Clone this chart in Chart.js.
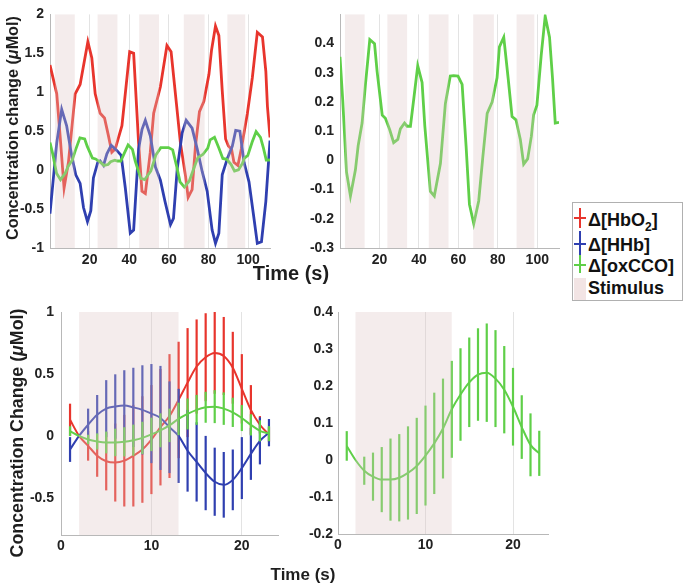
<!DOCTYPE html>
<html><head><meta charset="utf-8">
<script src="https://cdn.jsdelivr.net/npm/chart.js@4.4.1/dist/chart.umd.min.js"></script>
<style>
html,body{margin:0;padding:0;background:#fff;width:685px;height:584px;overflow:hidden;position:relative;font-family:"Liberation Sans",Arial,sans-serif;}
canvas{position:absolute;}
.lab{position:absolute;font-weight:bold;color:#1e1e1e;white-space:nowrap;line-height:1;}
.rot{transform:translate(-50%,-50%) rotate(-90deg);}
.ctr{transform:translate(-50%,-50%);}
#legend{position:absolute;left:572px;top:202px;width:109px;height:97px;border:1px solid #b0b0b0;background:#fff;z-index:5;}
.lt{position:absolute;left:15px;font-weight:bold;font-size:18px;color:#111;line-height:1;white-space:nowrap;}
.hl{position:absolute;left:1px;width:12px;height:1.5px;}
.vl{position:absolute;left:6px;width:1.5px;}
</style></head><body>
<canvas id="c1" width="285" height="275" style="left:0;top:0"></canvas>
<canvas id="c2" width="285" height="275" style="left:290px;top:0"></canvas>
<canvas id="c3" width="290" height="275" style="left:0;top:295px"></canvas>
<canvas id="c4" width="285" height="275" style="left:290px;top:295px"></canvas>

<div class="lab rot" style="left:12px;top:128px;font-size:16.2px">Concentration change (<i>μ</i>Mol)</div>
<div class="lab ctr" style="left:291px;top:273px;font-size:20px">Time (s)</div>
<div class="lab rot" style="left:18px;top:433px;font-size:17.8px">Concentration Change (<i>μ</i>Mol)</div>
<div class="lab ctr" style="left:303px;top:574px;font-size:17px">Time (s)</div>

<div id="legend">
  <div class="vl" style="top:5px;height:20px;background:#e8352d"></div>
  <div class="hl" style="top:14px;background:#e8352d"></div>
  <div class="lt" style="top:8px">Δ[HbO<sub style="font-size:12px">2</sub>]</div>
  <div class="vl" style="top:28px;height:24px;background:#2f3fb0"></div>
  <div class="hl" style="top:40px;background:#2f3fb0"></div>
  <div class="lt" style="top:33px">Δ[HHb]</div>
  <div class="vl" style="top:52px;height:18px;background:#5fcf48"></div>
  <div class="hl" style="top:61px;background:#5fcf48"></div>
  <div class="lt" style="top:54px">Δ[oxCCO]</div>
  <div style="position:absolute;left:1px;top:75px;width:12px;height:22px;background:#f2e4e4"></div>
  <div class="lt" style="top:76px">Stimulus</div>
</div>

<script>
// ---------- data ----------
const stimTop = [[2.5,12.5],[24,34],[45,55],[67.5,78],[89.5,98.5]];
const stimBottom = [[2,13]];

const hbo2Time = [0,3.4,5.1,7.1,9.3,12.7,15.2,19.1,21.1,22.8,25.3,27.5,29.5,31.2,32.9,36.3,40.2,42.2,44.7,46.4,48.1,50.6,52.3,55.7,59,61.1,63.8,65.8,68.4,69.7,71.7,73.4,75.4,77.6,80.2,81.5,83.5,85.2,86.9,88.6,90,91.6,92.8,94.8,96.5,99.6,102.1,104.6,107.2,108.9,109.7,111];
const hbo2Trace = [1.35,0.98,0.44,-0.23,0.10,0.98,1.10,1.65,1.44,0.98,0.73,0.67,0.44,0.23,0.27,0.57,1.52,1.50,0.35,-0.27,-0.30,0.23,0.73,1.07,1.60,1.52,0.85,0.35,-0.08,-0.35,-0.25,0.31,0.75,0.88,1.23,1.54,1.85,1.73,1.02,0.40,0.31,0.27,0.10,0.06,0.27,0.73,1.19,1.77,1.71,1.27,0.82,0.42];

const hhbTime = [0,3.4,5.9,8.4,10.9,13,15.2,16.9,18.9,20.6,21.9,24.1,25.3,27,28.7,30.9,33.8,35.9,38,40.5,42.2,44.7,46.4,48.1,50.6,53.2,55.7,58,60.8,62.3,64.2,66.7,68.7,71.7,74.3,76.8,79.3,81.8,83.5,85.2,86.9,89.5,92,93.7,95.8,97.9,100.4,102.6,104.6,106.7,108.9,111];
const hhbTrace = [-0.56,0.35,0.78,0.57,0.19,-0.06,-0.17,-0.48,-0.66,-0.52,-0.10,0.10,0.12,0.06,0.21,0.32,0.25,0.19,-0.23,-0.81,-0.77,0.27,0.52,0.64,0.44,0.04,-0.13,-0.40,-0.70,-0.62,0.02,0.48,0.64,0.54,0.27,-0.02,-0.27,-0.77,-0.94,-0.81,-0.06,0.15,0.31,0.51,0.50,0.10,-0.15,-0.56,-0.94,-0.92,-0.40,0.38];

const ccoTime = [0,1.4,3.3,5.3,7.8,9.2,11.2,12.9,15.1,17.5,18.8,21.4,23,25.2,27.2,29.3,30.6,32.7,34,35.7,37.4,39.4,41.6,43,45.8,47.8,50.9,53.4,55.9,57.6,59.8,61.9,63.9,65.6,67.8,70.3,72.3,74.6,77.1,79.6,80.8,83,85.2,87.2,89.2,91.4,93.1,95.1,97,98.1,99.8,102,104,106.2,107.7,109.1,111];
const ccoTrace = [0.355,0.205,-0.04,-0.122,-0.033,0.05,0.128,0.26,0.414,0.40,0.305,0.155,0.144,0.105,0.061,0.072,0.108,0.128,0.117,0.117,0.211,0.324,0.267,0.117,-0.106,-0.122,-0.011,0.194,0.289,0.29,0.289,0.26,0.05,-0.15,-0.217,-0.139,0.005,0.161,0.2,0.283,0.389,0.422,0.283,0.15,0.139,0.072,-0.013,0.005,0.083,0.155,0.189,0.361,0.494,0.422,0.283,0.128,0.13];

const avgTime = [1,2,3,4,5,6,7,8,9,10,11,12,13,14,15,16,17,18,19,20,21,22,23];
const hbo2Mean = [0.13,0,-0.08,-0.16,-0.205,-0.215,-0.2,-0.16,-0.11,-0.03,0.07,0.16,0.29,0.43,0.56,0.635,0.67,0.645,0.55,0.38,0.21,0.09,0.01];
const hbo2Err  = [0.13,0,0.12,0.17,0.235,0.315,0.37,0.41,0.43,0.44,0.47,0.5,0.47,0.44,0.38,0.355,0.33,0.315,0.29,0.28,0.2,0.07,0.06];
const hhbMean  = [-0.11,0,0.09,0.17,0.22,0.237,0.245,0.23,0.21,0.18,0.145,0.07,0,-0.12,-0.21,-0.3,-0.37,-0.395,-0.355,-0.26,-0.145,-0.04,0.026];
const hhbErr   = [0.1,0,0.13,0.16,0.23,0.26,0.285,0.32,0.36,0.4,0.42,0.37,0.38,0.33,0.32,0.3,0.275,0.265,0.245,0.25,0.21,0.19,0.11];
const ccoMean  = [0.038,0,-0.029,-0.045,-0.053,-0.053,-0.048,-0.035,-0.016,0.012,0.045,0.085,0.137,0.177,0.21,0.231,0.236,0.22,0.19,0.144,0.089,0.041,0.018];
const ccoErr   = [0.04,0,0.038,0.065,0.088,0.111,0.118,0.126,0.13,0.135,0.137,0.135,0.131,0.125,0.121,0.125,0.133,0.131,0.118,0.105,0.086,0.085,0.061];

const topXTicks = [20,40,60,80,100];
const topLeftYTicks = [-1,-0.5,0,0.5,1,1.5,2];
const topRightYTicks = [-0.3,-0.2,-0.1,0,0.1,0.2,0.3,0.4];
const botXTicks = [0,10,20];
const botLeftYTicks = [-0.5,0,0.5,1];
const botRightYTicks = [-0.2,-0.1,0,0.1,0.2,0.3,0.4];

// ---------- styling ----------
const RED = '#e8352d', BLUE = '#2f3fb0', GREEN = '#5fcf48';
Chart.defaults.font.family = '"Liberation Sans", Arial, sans-serif';

const pts = (xs, ys) => xs.map((x, i) => ({x, y: ys[i]}));
const fmt = v => String(+(+v).toFixed(2));

const errorBars = {
  id: 'errorBars',
  afterDatasetDraw(chart, args) {
    const ds = chart.data.datasets[args.index];
    if (!ds.errors) return;
    const xs = chart.scales.x, ys = chart.scales.y, ctx = chart.ctx, a = chart.chartArea;
    ctx.save();
    ctx.beginPath(); ctx.rect(a.left, a.top, a.right - a.left, a.bottom - a.top); ctx.clip();
    ctx.strokeStyle = ds.borderColor; ctx.lineWidth = ds.errWidth || 2;
    ds.data.forEach((p, i) => {
      const e = ds.errors[i];
      if (!e) return;
      const x = xs.getPixelForValue(p.x);
      ctx.beginPath();
      ctx.moveTo(x, ys.getPixelForValue(p.y - e));
      ctx.lineTo(x, ys.getPixelForValue(p.y + e));
      ctx.stroke();
    });
    ctx.restore();
  }
};
const stim = {
  id: 'stim',
  afterDatasetsDraw(chart, args, opts) {
    const xs = chart.scales.x, a = chart.chartArea, ctx = chart.ctx;
    ctx.save();
    ctx.fillStyle = 'rgba(222,195,195,0.32)';
    (opts.bands || []).forEach(([s, e]) => {
      const x0 = Math.max(a.left, xs.getPixelForValue(s)), x1 = Math.min(a.right, xs.getPixelForValue(e));
      ctx.fillRect(x0, a.top, x1 - x0, a.bottom - a.top);
    });
    ctx.restore();
  }
};

function makeChart(id, datasets, c) {
  return new Chart(document.getElementById(id), {
    type: 'line',
    data: {datasets},
    options: {
      responsive: false, animation: false, devicePixelRatio: 1,
      layout: {padding: c.pad},
      plugins: {legend: {display: false}, tooltip: {enabled: false}, stim: {bands: c.bands}},
      elements: {point: {radius: 0}},
      scales: {
        x: {
          type: 'linear', min: c.xmin, max: c.xmax,
          afterBuildTicks: s => { s.ticks = c.xt.map(v => ({value: v})); },
          afterFit: s => { s.height = c.xh; },
          grid: {color: '#e3e3e3', drawTicks: false, lineWidth: 1},
          border: {color: '#b8b8b8', width: 1},
          ticks: {padding: c.xpad, color: '#222', font: {size: 14, weight: 'bold'}, maxRotation: 0, autoSkip: false, callback: fmt}
        },
        y: {
          type: 'linear', min: c.ymin, max: c.ymax,
          afterBuildTicks: s => { s.ticks = c.yt.map(v => ({value: v})); },
          afterFit: s => { s.width = c.yw; },
          grid: {display: false, drawTicks: false},
          border: {color: '#b8b8b8', width: 1},
          ticks: {padding: c.ypad, color: '#222', font: {size: 14, weight: 'bold'}, autoSkip: false, callback: fmt}
        }
      }
    },
    plugins: [errorBars, stim]
  });
}

const topLine = (data, color, order) => ({data, borderColor: color, borderWidth: 2.8, tension: 0, order, pointRadius: 0});
const avgLine = (data, errors, color, order) => ({data, errors, borderColor: color, borderWidth: 2, errWidth: 2.2, cubicInterpolationMode: 'monotone', tension: 0.4, order, pointRadius: 0});

makeChart('c1', [
  topLine(pts(hbo2Time, hbo2Trace), RED, 3),
  topLine(pts(hhbTime, hhbTrace), BLUE, 2),
  topLine(pts(ccoTime, ccoTrace), GREEN, 1)
], {pad: {left: 0, top: 8, right: 15, bottom: 0}, xmin: 0, xmax: 111, ymin: -1, ymax: 2, xt: topXTicks, yt: topLeftYTicks, xh: 27, yw: 50, xpad: 4, ypad: 6, bands: stimTop});

makeChart('c2', [
  topLine(pts(ccoTime, ccoTrace), GREEN, 1)
], {pad: {left: 0, top: 8, right: 16, bottom: 0}, xmin: 0, xmax: 111, ymin: -0.3, ymax: 0.5, xt: topXTicks, yt: topRightYTicks, xh: 27, yw: 50, xpad: 4, ypad: 6, bands: stimTop});

makeChart('c3', [
  avgLine(pts(avgTime, hbo2Mean), hbo2Err, RED, 3),
  avgLine(pts(avgTime, hhbMean), hhbErr, BLUE, 2),
  avgLine(pts(avgTime, ccoMean), ccoErr, GREEN, 1)
], {pad: {left: 0, top: 17, right: 12, bottom: 0}, xmin: 0, xmax: 24, ymin: -0.8, ymax: 1, xt: botXTicks, yt: botLeftYTicks, xh: 35, yw: 61, xpad: 3, ypad: 7, bands: stimBottom});

makeChart('c4', [
  avgLine(pts(avgTime, ccoMean), ccoErr, GREEN, 1)
], {pad: {left: 0, top: 17, right: 27, bottom: 0}, xmin: 0, xmax: 24, ymin: -0.2, ymax: 0.4, xt: botXTicks, yt: botRightYTicks, xh: 36, yw: 48, xpad: 3, ypad: 5, bands: stimBottom});
</script>
</body></html>
